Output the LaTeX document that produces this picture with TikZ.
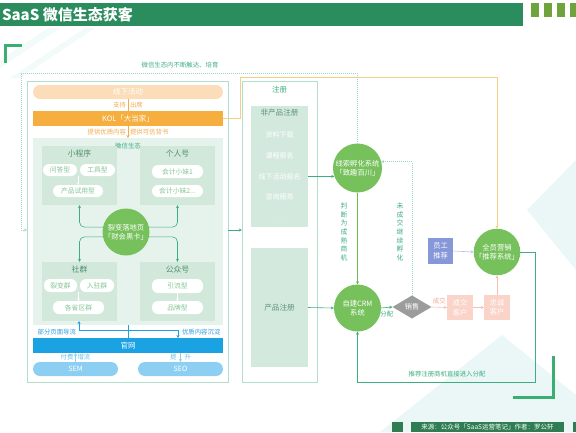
\documentclass[tikz,border=0pt]{standalone}
\usepackage{fontspec}
\setmainfont{Noto Sans CJK SC}
\usepackage{xcolor}
\usepackage{tikz}
\usetikzlibrary{positioning,arrows.meta,shapes.geometric,calc}
\definecolor{headgreen}{HTML}{2B8C5D}
\definecolor{olivec}{HTML}{6FA33B}
\definecolor{cornerc}{HTML}{3BAF72}
\definecolor{framec}{HTML}{B2DFCC}
\definecolor{ecobg}{HTML}{E6F3EC}
\definecolor{subbg}{HTML}{D2E8DB}
\definecolor{pilltxt}{HTML}{86C596}
\definecolor{darktxt}{HTML}{4F8F6C}
\definecolor{tealc}{HTML}{3DAE80}
\definecolor{dotc}{HTML}{9ED6C3}
\definecolor{peach}{HTML}{FBDDBA}
\definecolor{kolorange}{HTML}{F6AE3F}
\definecolor{orangetxt}{HTML}{F2A94E}
\definecolor{kolline}{HTML}{F4CF86}
\definecolor{webblue}{HTML}{1BA2E3}
\definecolor{paleblue}{HTML}{8CCFF2}
\definecolor{bluetxt}{HTML}{2E9EDF}
\definecolor{regbg}{HTML}{D4E9DE}
\definecolor{regtxt}{HTML}{5E927A}
\definecolor{leaf}{HTML}{77C15C}
\definecolor{leafline}{HTML}{6DB84F}
\definecolor{salegray}{HTML}{9C9C9C}
\definecolor{staffblue}{HTML}{8698D8}
\definecolor{staffline}{HTML}{B9C2E6}
\definecolor{custpink}{HTML}{FAD3C9}
\definecolor{pinkline}{HTML}{F7BFB2}
\definecolor{pinktxt}{HTML}{F3A894}
\definecolor{decor}{HTML}{EAF7F6}
\definecolor{footgreen}{HTML}{2F7E53}

\begin{document}
\begin{tikzpicture}[x=1pt, y=-1pt,
  every node/.style={inner sep=0pt, outer sep=0pt},
  subbox/.style={fill=subbg, minimum width=75pt, minimum height=59pt},
  subtitle/.style={text=darktxt, font=\fontsize{7.8}{8.5}\selectfont},
  pill/.style={fill=white, rounded corners=6pt, text=pilltxt, font=\fontsize{6.8}{7.5}\selectfont, minimum height=12pt},
  bar/.style={minimum width=190pt, minimum height=15pt, text=white, font=\fontsize{7.5}{8.5}\selectfont},
  hub/.style={circle, fill=leaf, text=white, align=center, font=\fontsize{7.3}{9}\selectfont},
  arr/.style={-{Stealth[length=3.2pt,width=3pt]}, draw=tealc, line width=0.6pt},
  warr/.style={-{Stealth[length=2.5pt,width=2.5pt]}, draw=white, line width=0.8pt},
  barr/.style={-{Stealth[length=3pt,width=3pt]}, draw=webblue, line width=0.6pt},
  bline/.style={draw=webblue, line width=0.6pt},
  lbl/.style={font=\fontsize{6.4}{7.5}\selectfont},
  regbox/.style={fill=regbg, minimum width=57pt},
  item/.style={text=white, font=\fontsize{7}{8}\selectfont},
  dotline/.style={draw=dotc, line width=0.7pt, dash pattern=on 0.8pt off 1.2pt},
  tile/.style={minimum width=26pt, minimum height=25pt, text=white, align=center, font=\fontsize{7.2}{9.5}\selectfont},
  vtext/.style={text=tealc, align=center, font=\fontsize{6.8}{8.6}\selectfont}
]
\useasboundingbox (0,0) rectangle (576,432);

% pale background shapes
\fill[decor] (527,210) -- (576,160) -- (576,270) -- cycle;
\fill[decor] (502,335) -- (576,395) -- (576,432) -- (380,432) -- cycle;
\fill[decor!60] (0,60) -- (48,28) -- (60,28) -- (0,68) -- cycle;
\fill[decor!60] (10,78) -- (85,28) -- (95,28) -- (20,78) -- cycle;

% header
\fill[headgreen] (0,3) rectangle (523,26);
\node[anchor=west, text=white, font=\bfseries\fontsize{15}{16}\selectfont] (title) at (2,14.5) {SaaS 微信生态获客};
\fill[olivec] (531,3) rectangle +(8,14);
\fill[olivec] (544,3) rectangle +(8,14);
\fill[olivec] (557,3) rectangle +(8,14);
\fill[olivec] (570,3) rectangle +(8,14);
\draw[cornerc, line width=3pt] (5,63) -- (5,45) -- (22,45);
\draw[cornerc, line width=3pt] (513,397) -- (553,397) -- (553,356);

% wechat side
\node[draw=framec, line width=0.8pt, minimum width=201pt, minimum height=301pt] (wxbox) at (127.5,231.5) {};
\node[bar, fill=peach, rounded corners=7pt, minimum height=14pt] (offline) at (128,92) {线下活动};
\node[bar, fill=kolorange] (kol) at (128,118.5) {KOL「大当家」};
\node[fill=ecobg, minimum width=190pt, minimum height=187pt] (eco) at (128,231.5) {};
\node[lbl, text=tealc] (ecoT) at (128,146) {微信生态};

\node[subbox] (xcx) at (79.5,175.5) {};
\node[subtitle, below=3.5pt of xcx.north] (xcxT) {小程序};
\node[pill, minimum width=34pt] (wd) at (60,170) {问答型};
\node[pill, minimum width=35pt] (gj) at (97.5,170) {工具型};
\node[pill, minimum width=50pt] (cp) at (78,191) {产品试用型};
\draw[warr] (cp.north |- wd.south) -- (cp.north);

\node[subbox] (grh) at (177.5,175.5) {};
\node[subtitle, below=3.5pt of grh.north] (grhT) {个人号};
\node[pill, minimum width=51pt, minimum height=13pt] (kj1) at (177.5,171.5) {会计小妹1};
\node[pill, minimum width=51pt] (kj2) at (177.5,191) {会计小妹2...};

\node[subbox] (sq) at (79.5,291.5) {};
\node[subtitle, below=3.5pt of sq.north] (sqT) {社群};
\node[pill, minimum width=33pt, minimum height=13pt] (lb) at (60.5,285.5) {裂变群};
\node[pill, minimum width=34pt, minimum height=13pt] (rz) at (97,285.5) {入驻群};
\node[pill, minimum width=51pt, minimum height=13pt] (gs) at (78.5,307.5) {各省区群};
\draw[warr] (gs.north |- lb.south) -- (gs.north);

\node[subbox] (gzh) at (177.5,291.5) {};
\node[subtitle, below=3.5pt of gzh.north] (gzhT) {公众号};
\node[pill, minimum width=51pt, minimum height=14pt] (yl) at (177.5,286) {引流型};
\node[pill, minimum width=51pt, minimum height=13pt] (pp) at (177.5,307.5) {品牌型};
\draw[warr] (yl) -- (pp);

\node[hub, minimum size=47pt] (fission) at (126,232) {裂变落地页\\「财会黑卡」};
\draw[arr, rounded corners=5pt] (fission.168) -| (xcx.south);
\draw[arr, rounded corners=5pt] (fission.192) -| (sq.north);
\draw[arr, rounded corners=5pt] (fission.12) -| (grh.south);
\draw[arr, rounded corners=5pt] (fission.-12) -| (gzh.north);

\draw[draw=orangetxt, line width=0.5pt] (offline.south) -- (kol.north)
  node[midway, left=2pt, lbl, text=orangetxt] {支持}
  node[midway, right=2pt, lbl, text=orangetxt] {出席};
\draw[-{Stealth[length=3pt,width=3pt]}, draw=orangetxt, line width=0.5pt] (kol.south) -- (eco.north)
  node[midway, left=2pt, lbl, text=orangetxt] {提供优质内容}
  node[midway, right=2pt, lbl, text=orangetxt] {提供可信背书};

% official site
\node[bar, fill=webblue] (web) at (128,345.5) {官网};
\coordinate (jL) at (79,330);
\coordinate (jR) at (178,330);
\draw[bline] (eco.south) -- (web.north);
\draw[bline] (jL) -- (jR);
\draw[barr] (jL) -- (jL |- sq.south);
\draw[barr] (jR) -- (jR |- web.north);
\node[lbl, text=bluetxt, anchor=east] (guide) at (76,332) {部分页面导流};
\node[lbl, text=bluetxt, anchor=west] (settle) at (182,332) {优质内容沉淀};
\node[fill=paleblue, rounded corners=7pt, minimum width=85pt, minimum height=14pt, text=white, font=\fontsize{7.2}{8}\selectfont] (sem) at (75.5,369) {SEM};
\node[fill=paleblue, rounded corners=7pt, minimum width=85pt, minimum height=14pt, text=white, font=\fontsize{7.2}{8}\selectfont] (seo) at (180.5,369) {SEO};
\draw[barr, draw=paleblue] (sem.north) -- (sem.north |- web.south)
  node[midway, left=2pt, lbl, text=bluetxt!70] {付费}
  node[midway, right=2pt, lbl, text=bluetxt!70] {增流};
\draw[barr, draw=paleblue] (web.south -| seo.north) -- (seo.north)
  node[midway, left=4pt, lbl, text=bluetxt!70] {提}
  node[midway, right=4pt, lbl, text=bluetxt!70] {升};

% registration
\node[draw=framec, line width=0.8pt, minimum width=75pt, minimum height=301pt] (reg) at (279.5,231.5) {};
\node[text=tealc, font=\fontsize{7.5}{8}\selectfont, below=5pt of reg.north] (regT) {注册};
\node[regbox, minimum height=121pt] (nonprod) at (279.5,166.5) {};
\node[text=regtxt, font=\fontsize{7.6}{8}\selectfont, below=3.5pt of nonprod.north] (npT) {非产品注册};
\node[item] (i1) at (279.5,135) {资料下载};
\node[item] (i2) at (279.5,156) {课程报名};
\node[item] (i3) at (279.5,177) {线下活动报名};
\node[item] (i4) at (279.5,197) {咨询服务};
\node[item, font=\fontsize{4}{4}\selectfont] (more) at (279.5,220) {......};
\node[regbox, minimum height=119pt, text=regtxt, font=\fontsize{7.6}{8}\selectfont] (prod) at (279.5,307.5) {产品注册};

% lead handling
\node[hub, minimum size=49pt] (lead) at (357.5,168) {线索孵化系统\\「致趣百川」};
\node[hub, minimum size=47pt] (crm) at (357.5,308) {自建CRM\\系统};
\node[diamond, fill=salegray, minimum width=39pt, minimum height=23pt, text=white, font=\fontsize{7.2}{8}\selectfont] (sale) at (412,307) {销售};
\node[hub, minimum size=46pt] (rec) at (497,252) {全员营销\\「推荐系统」};
\node[tile, fill=staffblue, minimum width=25pt, minimum height=26pt] (staff) at (440.5,251) {员工\\推荐};
\node[tile, fill=custpink] (deal) at (460,307.5) {成交\\客户};
\node[tile, fill=custpink] (loyal) at (497,307.5) {忠诚\\客户};
\node[vtext] (judge) at (344,232) {判\\断\\为\\成\\熟\\商\\机};
\node[vtext] (keep) at (400,232) {未\\成\\交\\继\\续\\孵\\化};

\draw[arr] (nonprod.east |- lead.200) -- (lead.200);
\draw[arr] (prod.east) -- (crm.west);
\draw[arr, draw=leafline] (lead.south) -- (crm.north);
\draw[arr] (crm.east) -- (sale.west) node[midway, below=4pt, lbl, text=tealc] {分配};
\draw[dotline, -{Stealth[length=3pt,width=3pt]}] (sale.north) |- (lead.15);
\draw[arr, draw=pinkline] (sale.east) -- (deal.west) node[midway, above=3pt, lbl, text=pinktxt] {成交};
\draw[arr, draw=pinkline] (deal.east) -- (loyal.west);
\draw[arr, draw=pinkline] (loyal.north) -- (rec.south);
\draw[arr, draw=staffline] (staff.east) -- (rec.west);

\coordinate (kolUp) at (240,77);
\draw[arr, draw=kolline] (kol.east) -| (kolUp) -| (rec.north);
\coordinate (fbCorner) at (535,382);
\draw[arr] (rec.east) -| (fbCorner) -| (crm.south);
\node[lbl, text=tealc] (direct) at (447,374) {推荐注册商机直接进入分配};

\coordinate (nurtureTop) at (21,73);
\coordinate (crossY) at (0,230);
\draw[dotline, -{Stealth[length=3pt,width=3pt]}] (lead.north) |- (nurtureTop) |- (wxbox.west |- crossY);
\node[lbl, text=tealc] (nurture) at (180,65) {微信生态内不断触达、培育};
\draw[arr] (wxbox.east |- crossY) -- (reg.west |- crossY);

% footer
\fill[footgreen] (392,422) rectangle (403,432);
\node[fill=footgreen, text=white, minimum width=153pt, minimum height=10pt, anchor=north west, font=\fontsize{6.5}{7}\selectfont] (source) at (411,422) {来源：公众号「SaaS运营笔记」作者：罗公轩};
\fill[footgreen] (573,422) rectangle (576,432);
\end{tikzpicture}
\end{document}
